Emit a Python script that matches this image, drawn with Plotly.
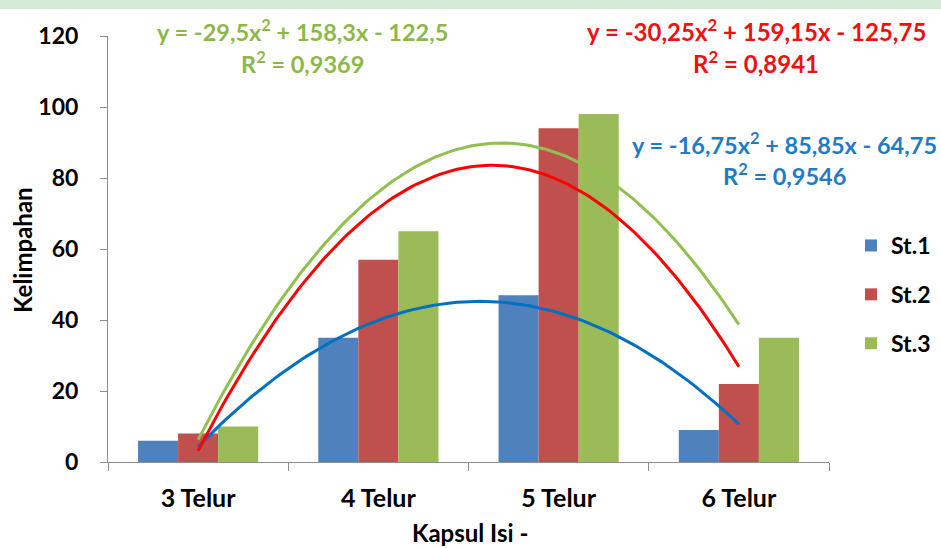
import numpy as np
import plotly.graph_objects as go

# Categories and station values
categories = ["3 Telur", "4 Telur", "5 Telur", "6 Telur"]
cat_pos = [1, 2, 3, 4]
st1 = [6, 35, 47, 9]
st2 = [8, 57, 94, 22]
st3 = [10, 65, 98, 35]

# Polynomial trendline coefficients (a, b, c) and R^2
fit_st1 = (-16.75, 85.85, -64.75)
fit_st2 = (-30.25, 159.15, -125.75)
fit_st3 = (-29.5, 158.3, -122.5)
r2_st1, r2_st2, r2_st3 = 0.9546, 0.8941, 0.9369

y_ticks = [0, 20, 40, 60, 80, 100, 120]

BAR_COLORS = ["#4F81BD", "#C0504D", "#9BBB59"]
LINE_COLORS = ["#0070C0", "#FF0000", "#92C050"]
TEXT_COLORS = ["#1F7BC4", "#F01010", "#8DB849"]
FONT = "Lato"

W, H = 941, 548
ML, MR, MT, MB = 108, 112, 36, 86
plot_h = H - MT - MB
plot_w = W - ML - MR


def px_to_paper_y(py):
    return 1 - (py - MT) / plot_h


def px_to_paper_x(px):
    return (px - ML) / plot_w


def fmt(v, nd):
    s = f"{abs(v):.{nd}f}".rstrip("0").rstrip(".")
    return s.replace(".", ",")


def equation(coef):
    a, b, c = coef
    sa = ("-" if a < 0 else "") + fmt(a, 2)
    sb = ("+ " if b >= 0 else "- ") + fmt(b, 2)
    sc = ("+ " if c >= 0 else "- ") + fmt(c, 2)
    return f"y = {sa}x<sup>2</sup> {sb}x {sc}"


fig = go.Figure()

for name, vals, col in zip(["St.1", "St.2", "St.3"], [st1, st2, st3], BAR_COLORS):
    fig.add_trace(go.Bar(
        x=cat_pos, y=vals, name=name, marker=dict(color=col, line=dict(width=0)),
        legendgroup=name,
    ))

xs = np.linspace(cat_pos[0], cat_pos[-1], 120)
for coef, col in zip([fit_st1, fit_st2, fit_st3], LINE_COLORS):
    a, b, c = coef
    fig.add_trace(go.Scatter(
        x=xs, y=a * xs ** 2 + b * xs + c, mode="lines",
        line=dict(color=col, width=3), showlegend=False, hoverinfo="skip",
    ))

annotations = []
# equation labels: (coef, r2, colour, centre x px, first line y px, font size)
eq_specs = [
    (fit_st3, r2_st3, TEXT_COLORS[2], 302, 30, 23.5),
    (fit_st2, r2_st2, TEXT_COLORS[1], 756, 30, 24),
    (fit_st1, r2_st1, TEXT_COLORS[0], 784, 143, 23.5),
]
for coef, r2, col, cx, cy, fs in eq_specs:
    annotations.append(dict(
        text=equation(coef), x=px_to_paper_x(cx), y=px_to_paper_y(cy),
        xref="paper", yref="paper", showarrow=False, xanchor="center", yanchor="middle",
        font=dict(family=FONT, size=fs, color=col, weight="bold"),
    ))
    annotations.append(dict(
        text=f"R<sup>2</sup> = {str(r2).replace('.', ',')}", x=px_to_paper_x(cx),
        y=px_to_paper_y(cy + 32), xref="paper", yref="paper", showarrow=False,
        xanchor="center", yanchor="middle",
        font=dict(family=FONT, size=fs, color=col, weight="bold"),
    ))

# axis titles
annotations.append(dict(
    text="Kelimpahan", x=px_to_paper_x(22), y=px_to_paper_y(250), xref="paper", yref="paper",
    showarrow=False, textangle=-90, xanchor="center", yanchor="middle",
    font=dict(family=FONT, size=24, color="#000000", weight="bold"),
))
annotations.append(dict(
    text="Kapsul Isi -", x=px_to_paper_x(470), y=px_to_paper_y(532), xref="paper", yref="paper",
    showarrow=False, xanchor="center", yanchor="middle",
    font=dict(family=FONT, size=24, color="#000000", weight="bold"),
))

shapes = [dict(
    type="rect", xref="paper", yref="paper",
    x0=px_to_paper_x(0), x1=px_to_paper_x(W), y0=px_to_paper_y(9), y1=px_to_paper_y(0),
    fillcolor="#D3EBD6", line=dict(width=0), layer="below",
)]

fig.update_layout(
    width=W, height=H,
    margin=dict(l=ML, r=MR, t=MT, b=MB, pad=0, autoexpand=False),
    paper_bgcolor="white", plot_bgcolor="white",
    barmode="group", bargap=1 / 3, bargroupgap=0,
    font=dict(family=FONT, color="#000000"),
    showlegend=True,
    legend=dict(
        x=851 / W, y=1 - 224 / H, xref="container", yref="container",
        xanchor="left", yanchor="top", tracegroupgap=16,
        font=dict(family=FONT, size=23, color="#000000", weight="bold"),
        bgcolor="rgba(0,0,0,0)", itemwidth=30,
    ),
    annotations=annotations,
    shapes=shapes,
)

fig.update_xaxes(
    range=[0.5, 4.5], tickvals=cat_pos, ticktext=categories,
    ticks="", showgrid=False, zeroline=False,
    showline=True, linecolor="#8C8C8C", linewidth=1,
    minor=dict(tickvals=[0.5, 1.5, 2.5, 3.5, 4.5], ticks="outside", ticklen=8,
               tickcolor="#8C8C8C", tickwidth=1, showgrid=False),
    tickfont=dict(family=FONT, size=25, color="#000000", weight="bold"),
    ticklabelstandoff=14,
)
fig.update_yaxes(
    range=[0, 120], tickvals=y_ticks, ticks="outside", ticklen=7,
    tickcolor="#8C8C8C", showgrid=False, zeroline=False,
    showline=True, linecolor="#8C8C8C", linewidth=1,
    tickfont=dict(family=FONT, size=23, color="#000000", weight="bold"),
    ticklabelstandoff=17,
)

fig.write_html("out.html")
